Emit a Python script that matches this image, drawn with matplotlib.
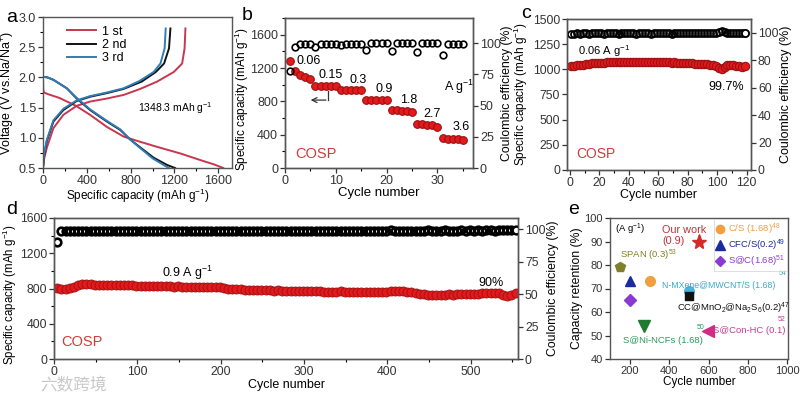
import numpy as np
import matplotlib
matplotlib.use('Agg')
import matplotlib.pyplot as plt
from matplotlib.ticker import AutoMinorLocator
from matplotlib.lines import Line2D

plt.rcParams['font.family'] = ['Liberation Sans', 'DejaVu Sans']
plt.rcParams['mathtext.fontset'] = 'custom'
plt.rcParams['mathtext.rm'] = 'Liberation Sans'
plt.rcParams['mathtext.it'] = 'Liberation Sans:italic'
plt.rcParams['mathtext.bf'] = 'Liberation Sans:bold'
plt.rcParams['font.size'] = 9
plt.rcParams['axes.linewidth'] = 1.0
plt.rcParams['axes.edgecolor'] = '#555555'

# ---- panel a: charge/discharge profiles ----
a_dis1_cap = [0, 0, 2, 8, 50, 150, 300, 430, 583, 736, 858, 1041, 1255, 1438, 1560, 1645]
a_dis1_v = [2.62, 2.0, 1.8, 1.75, 1.72, 1.66, 1.53, 1.38, 1.18, 1.02, 0.95, 0.85, 0.74, 0.63, 0.56, 0.5]
a_chg1_cap = [0, 10, 34, 95, 186, 308, 430, 583, 736, 888, 1041, 1194, 1270, 1292, 1300]
a_chg1_v = [0.5, 0.65, 0.83, 1.16, 1.38, 1.53, 1.60, 1.65, 1.71, 1.81, 1.93, 2.09, 2.23, 2.48, 2.81]
a_dis2_cap = [0, 0, 40, 95, 217, 308, 430, 583, 705, 797, 888, 1010, 1133, 1205]
a_dis2_v = [2.3, 2.01, 2.0, 1.96, 1.82, 1.65, 1.46, 1.27, 1.13, 0.97, 0.84, 0.67, 0.55, 0.5]
a_chg2_cap = [0, 10, 34, 95, 186, 308, 430, 583, 736, 900, 1030, 1105, 1150, 1163]
a_chg2_v = [0.5, 0.7, 0.94, 1.27, 1.46, 1.61, 1.68, 1.74, 1.81, 1.93, 2.09, 2.23, 2.48, 2.81]
a_dis3_cap = [0, 0, 40, 95, 217, 308, 430, 583, 705, 790, 880, 1000, 1110, 1150]
a_dis3_v = [2.45, 2.01, 2.0, 1.96, 1.82, 1.66, 1.47, 1.28, 1.14, 0.98, 0.84, 0.66, 0.54, 0.5]
a_chg3_cap = [0, 10, 34, 95, 186, 308, 430, 583, 736, 880, 1010, 1072, 1110, 1120]
a_chg3_v = [0.5, 0.72, 0.96, 1.29, 1.48, 1.62, 1.69, 1.75, 1.82, 1.94, 2.09, 2.23, 2.48, 2.81]

# ---- panel b: rate performance ----
b_cycles = list(range(1, 36))
b_capacity = [1290, 1160, 1120, 1090, 1070, 990, 990, 990, 990, 988,
              940, 939, 938, 936, 934, 818, 818, 817, 816, 811,
              698, 695, 690, 684, 671, 530, 526, 520, 512, 497,
              358, 354, 350, 345, 335]
b_ce = [78, 97, 99, 99.5, 99.5, 97, 99.5, 99.5, 99.5, 99.5,
        98.4, 99.5, 99.5, 99.5, 99.5, 94.4, 99.7, 99.7, 99.7, 99.7,
        93.9, 99.7, 99.7, 99.7, 99.7, 92.5, 99.7, 99.7, 99.7, 99.7,
        90.4, 99, 99.3, 99.5, 99.5]
b_rates = ['0.06', '0.15', '0.3', '0.9', '1.8', '2.7', '3.6']

# ---- panel c: cycling at 0.06 A/g ----
c_cycles = list(range(1, 121, 2))
c_capacity = [1030, 1035, 1040, 1045, 1048, 1052, 1055, 1058, 1060, 1062,
              1064, 1066, 1068, 1068, 1070, 1070, 1072, 1072, 1074, 1075,
              1076, 1075, 1076, 1077, 1076, 1075, 1074, 1073, 1072, 1072,
              1070, 1069, 1068, 1068, 1066, 1068, 1065, 1063, 1062, 1060,
              1060, 1058, 1057, 1055, 1054, 1052, 1050, 1046, 1040, 1030,
              1015, 1005, 1020, 1040, 1048, 1045, 1035, 1030, 1028, 1030]
c_ce = [99.3, 99.4, 99.5, 99.4, 99.5, 99.5, 99.4, 99.5, 99.6, 99.5,
        99.5, 99.4, 99.5, 99.5, 99.6, 99.5, 99.4, 99.5, 99.5, 99.6,
        99.5, 99.5, 99.4, 99.5, 99.6, 99.5, 99.5, 99.4, 99.5, 99.6,
        99.5, 99.5, 99.6, 99.5, 99.4, 99.5, 99.6, 99.5, 99.5, 99.6,
        99.5, 99.6, 99.5, 99.7, 99.6, 99.5, 99.6, 99.8, 99.7, 99.9,
        100.6, 101.2, 100.4, 99.8, 99.6, 99.7, 99.6, 99.5, 99.6, 99.7]

# ---- panel d: long cycling at 0.9 A/g ----
d_cycles = list(range(4, 555, 5))
d_capacity = [805, 800, 795, 805, 815, 835, 848, 850, 852, 840,
              838, 842, 840, 838, 840, 836, 835, 838, 836, 834,
              832, 834, 832, 828, 826, 830, 834, 826, 822, 824,
              820, 818, 820, 816, 818, 822, 815, 818, 820, 812,
              805, 800, 795, 792, 790, 788, 786, 785, 782, 780,
              782, 778, 776, 778, 775, 774, 772, 775, 770, 768,
              770, 766, 768, 772, 764, 762, 760, 764, 766, 762,
              758, 756, 760, 758, 756, 760, 758, 762, 758, 762,
              766, 770, 774, 768, 762, 755, 748, 742, 735, 730,
              726, 724, 728, 730, 732, 730, 734, 736, 735, 738,
              740, 742, 745, 748, 752, 750, 745, 725, 712, 722,
              745]
d_ce = [90.2, 98.6, 98.4, 98.6, 98.5, 98.7, 98.5, 98.6, 98.4, 98.6,
        98.5, 98.7, 98.6, 98.5, 98.6, 98.4, 98.6, 98.7, 98.5, 98.6,
        98.5, 98.6, 98.7, 98.5, 98.6, 98.8, 98.6, 98.5, 98.7, 98.6,
        98.5, 98.6, 98.7, 98.6, 98.5, 98.9, 98.7, 98.6, 98.5, 98.6,
        98.7, 98.6, 98.5, 98.6, 98.7, 98.6, 98.5, 98.6, 98.7, 98.6,
        98.8, 98.7, 98.6, 98.7, 98.8, 98.7, 98.6, 98.9, 98.8, 98.7,
        98.8, 98.9, 98.8, 98.7, 98.9, 98.8, 98.9, 98.8, 98.9, 98.8,
        98.9, 98.8, 99.0, 98.9, 98.8, 98.9, 99.0, 98.9, 98.8, 99.0,
        99.1, 99.0, 98.9, 99.0, 98.9, 98.8, 99.0, 98.9, 99.0, 99.1,
        99.0, 98.9, 99.0, 99.1, 99.0, 98.9, 99.0, 99.1, 99.0, 99.1,
        99.0, 99.1, 99.0, 99.2, 99.1, 99.0, 99.1, 99.2, 99.1, 99.2,
        99.4]

# ---- panel e: comparison ----
e_names = ['Our work', 'SPAN', 'CFC/S', 'C/S', 'S@C', 'N-MXene@MWCNT/S', 'CC@MnO2@Na2S6', 'S@Ni-NCFs', 'S@Con-HC']
e_cycles = [550, 150, 200, 300, 200, 500, 500, 270, 595]
e_retention = [90, 79, 73, 73, 65, 69, 67, 54, 52]
e_markers = ['*', 'p', '^', 'o', 'D', 'o', 's', 'v', '<']
e_colors = ['#d42a2a', '#7f7f2c', '#1b2a9c', '#f0a040', '#8a3ad0', '#4ab4dc', '#111111', '#1d7a2e', '#d02c84']
e_sizes = [11, 7.5, 7.5, 7, 6, 7, 6, 8, 8]

RED = '#e3191c'
RED_EDGE = '#9a1212'
COSP_RED = '#d23a3a'

fig = plt.figure(figsize=(8, 3.98), dpi=100)


def style(ax, right=None, size=9):
    for a in (ax, right):
        if a is None:
            continue
        a.tick_params(direction='out', length=3.5, width=0.9, labelsize=size, pad=1.5, colors='#333333')
        a.tick_params(which='minor', direction='out', length=2, width=0.8)
        for s in a.spines.values():
            s.set_color('#555555')


def panel_label(x, y, s):
    fig.text(x / 800, 1 - y / 398, s, fontsize=14, ha='center', va='center')


# panel a
ax = fig.add_axes([43 / 800, 1 - 168 / 398, 189 / 800, 151 / 398])
c1, c2, c3 = '#c8364f', '#111111', '#2f7db5'
ax.plot(a_dis1_cap, a_dis1_v, color=c1, lw=1.4)
ax.plot(a_chg1_cap, a_chg1_v, color=c1, lw=1.4, label='1 st')
ax.plot(a_dis2_cap, a_dis2_v, color=c2, lw=1.4)
ax.plot(a_chg2_cap, a_chg2_v, color=c2, lw=1.4, label='2 nd')
ax.plot(a_dis3_cap, a_dis3_v, color=c3, lw=1.4)
ax.plot(a_chg3_cap, a_chg3_v, color=c3, lw=1.4, label='3 rd')
ax.set_xlim(0, 1725)
ax.set_ylim(0.5, 3.0)
ax.set_xticks([0, 400, 800, 1200, 1600])
ax.set_yticks([0.5, 1.0, 1.5, 2.0, 2.5, 3.0])
ax.xaxis.set_minor_locator(AutoMinorLocator(2))
ax.yaxis.set_minor_locator(AutoMinorLocator(2))
ax.set_xlabel('Specific capacity (mAh g$^{-1}$)', fontsize=8.5, labelpad=0)
ax.set_ylabel('Voltage (V vs.Na/Na$^{+}$)', fontsize=9, labelpad=1)
ax.legend(loc='upper left', bbox_to_anchor=(0.08, 1.0), frameon=False, fontsize=9,
          handlelength=2.3, handletextpad=0.5, labelspacing=0.1, borderaxespad=0.3)
ax.text(870, 1.5, '1348.3 mAh g$^{-1}$', fontsize=7.5, va='center')
style(ax)
panel_label(12, 17, 'a')

# panel b
ax = fig.add_axes([285 / 800, 1 - 168 / 398, 188 / 800, 150 / 398])
axr = ax.twinx()
ax.plot(b_cycles, b_capacity, 'o', color=RED, mec=RED_EDGE, mew=0.8, ms=5.5)
axr.plot(b_cycles, b_ce, 'o', mfc='none', mec='black', mew=1.2, ms=4.8)
ax.set_xlim(0, 37)
ax.set_ylim(0, 1800)
axr.set_ylim(0, 120)
ax.set_xticks([0, 10, 20, 30])
ax.set_yticks([0, 400, 800, 1200, 1600])
axr.set_yticks([0, 25, 50, 75, 100])
ax.xaxis.set_minor_locator(AutoMinorLocator(2))
ax.yaxis.set_minor_locator(AutoMinorLocator(2))
ax.set_xlabel('Cycle number', fontsize=9.5, labelpad=0)
ax.set_ylabel('Specific capacity (mAh g$^{-1}$)', fontsize=8.5)
axr.set_ylabel('Coulombic efficiency (%)', fontsize=8.8)
ax.yaxis.set_label_coords(-0.18, 0.46)
axr.yaxis.set_label_coords(1.15, 0.5)
b_label_pos = [(2.2, 1280), (6.5, 1120), (12.6, 1060), (17.8, 950), (22.7, 820), (27.2, 650), (32.9, 490)]
for (x, y), s in zip(b_label_pos, b_rates):
    ax.text(x, y, s, fontsize=9, va='center')
ax.text(31.2, 975, 'A g$^{-1}$', fontsize=9, va='center')
ax.plot([8.5, 8.5], [930, 815], color='#333333', lw=0.9)
ax.annotate('', xy=(4.5, 815), xytext=(8.6, 815),
            arrowprops=dict(arrowstyle='->', color='#333333', lw=0.9))
ax.text(2, 170, 'COSP', fontsize=10.5, color=COSP_RED, va='center')
style(ax, axr, 9)
panel_label(247, 15, 'b')

# panel c
ax = fig.add_axes([567 / 800, 1 - 170 / 398, 184 / 800, 151 / 398])
axr = ax.twinx()
ax.plot(c_cycles, c_capacity, 'o', color=RED, mec=RED_EDGE, mew=0.8, ms=6)
axr.plot(c_cycles, c_ce, 'o', mfc='none', mec='black', mew=1.3, ms=5)
axr.plot(c_cycles[-1:], c_ce[-1:], 'o', mfc='white', mec='black', mew=1.2, ms=5)
ax.set_xlim(-2, 123)
ax.set_ylim(0, 1500)
axr.set_ylim(0, 110)
ax.set_xticks(range(0, 121, 20))
ax.set_yticks(range(0, 1501, 250))
axr.set_yticks(range(0, 101, 20))
ax.xaxis.set_minor_locator(AutoMinorLocator(2))
ax.set_xlabel('Cycle number', fontsize=9, labelpad=0)
ax.set_ylabel('Specific capacity (mAh g$^{-1}$)', fontsize=8.5)
axr.set_ylabel('Coulombic efficiency (%)', fontsize=9, labelpad=1)
ax.yaxis.set_label_coords(-0.2, 0.5)
ax.text(5.4, 1185, '0.06 A g$^{-1}$', fontsize=8, va='center')
ax.text(118, 827, '99.7%', fontsize=9, va='center', ha='right')
ax.text(4, 160, 'COSP', fontsize=10, color=COSP_RED, va='center')
style(ax, axr, 8.8)
panel_label(526, 13, 'c')

# panel d
ax = fig.add_axes([54 / 800, 1 - 359 / 398, 464 / 800, 141 / 398])
axr = ax.twinx()
ax.plot(d_cycles, d_capacity, 'o', color=RED, mec=RED_EDGE, mew=0.6, ms=6.5)
axr.plot(d_cycles, d_ce, 'o', mfc='none', mec='black', mew=1.9, ms=5.5)
axr.plot(d_cycles[-1:], d_ce[-1:], 'o', mfc='white', mec='black', mew=1.2, ms=5)
ax.set_xlim(0, 557)
ax.set_ylim(0, 1600)
axr.set_ylim(0, 108.7)
ax.set_xticks(range(0, 501, 100))
ax.set_yticks(range(0, 1601, 400))
axr.set_yticks(range(0, 101, 25))
ax.xaxis.set_minor_locator(AutoMinorLocator(2))
ax.yaxis.set_minor_locator(AutoMinorLocator(2))
ax.set_xlabel('Cycle number', fontsize=9, labelpad=1)
ax.set_ylabel('Specific capacity (mAh g$^{-1}$)', fontsize=8.3)
axr.set_ylabel('Coulombic efficiency (%)', fontsize=8.8, labelpad=1)
ax.yaxis.set_label_coords(-0.075, 0.46)
ax.text(130, 973, '0.9 A g$^{-1}$', fontsize=9, va='center')
ax.text(540, 860, '90%', fontsize=9, va='center', ha='right')
ax.text(9, 190, 'COSP', fontsize=10.5, color=COSP_RED, va='center')
style(ax, axr, 8.8)
panel_label(12, 210, 'd')

# panel e
ax = fig.add_axes([610 / 800, 1 - 359 / 398, 178 / 800, 141 / 398])
for xc, yr, m, col, sz in zip(e_cycles, e_retention, e_markers, e_colors, e_sizes):
    ax.plot(xc, yr, m, color=col, ms=sz, mec=col)
ax.set_xlim(98, 1005)
ax.set_ylim(40, 100)
ax.set_xticks(range(200, 1001, 200))
ax.set_yticks(range(40, 101, 10))
ax.set_xlabel('Cycle number', fontsize=8.5, labelpad=0)
ax.set_ylabel('Capacity retention (%)', fontsize=8.8, labelpad=1)
ax.text(125, 95, '(A g$^{-1}$)', fontsize=6.8, va='center')
ax.text(363, 92.6, 'Our work\n(0.9)', fontsize=7.8, va='center', color='#c0303a', linespacing=1.1)
ax.text(150, 84, 'SPAN (0.3)$^{53}$', fontsize=6.8, va='center', color='#7f7f2c')
ax.text(363, 71.2, 'N-MXene@MWCNT/S (1.68)', fontsize=6.3, va='center', color='#3aa8c8')
ax.text(958, 76.3, '54', fontsize=5, va='center', color='#3aa8c8')
ax.text(440, 61.6, 'CC@MnO$_2$@Na$_2$S$_6$(0.2)$^{47}$', fontsize=6.8, va='center', color='#111111')
ax.text(165, 48, 'S@Ni-NCFs (1.68)', fontsize=6.8, va='center', color='#2a9a5a')
ax.text(540, 53.2, '50', fontsize=5, va='center', color='#2a9a5a')
ax.text(623, 52.3, 'S@Con-HC (0.1)', fontsize=6.8, va='center', color='#c04090')
ax.text(955, 57, '52', fontsize=5, va='center', color='#c04090')
leg_idx = (3, 2, 4)
leg_handles = [Line2D([], [], ls='none', marker=e_markers[i], color=e_colors[i], ms=e_sizes[i] - 1)
               for i in leg_idx]
leg_labels = ['C/S (1.68)$^{48}$', 'CFC/S(0.2)$^{49}$', 'S@C(1.68)$^{51}$']
leg = ax.legend(leg_handles, leg_labels, loc='upper right', fontsize=6.8, frameon=True,
                handlelength=0.8, handletextpad=0.4, labelspacing=0.1, borderpad=0.2,
                borderaxespad=0.15, fancybox=False)
leg.get_frame().set_edgecolor('#d0d0d0')
leg.get_frame().set_linewidth(0.6)
for txt, i in zip(leg.get_texts(), leg_idx):
    txt.set_color(e_colors[i])
style(ax, size=8)
panel_label(574, 210, 'e')

# watermark
fig.text(0.05, 0.03, '六数跨境', fontsize=12, color='#c8c8c8',
         family=['Noto Sans CJK SC', 'DejaVu Sans'], va='center')

fig.savefig('out.png', dpi=100)
